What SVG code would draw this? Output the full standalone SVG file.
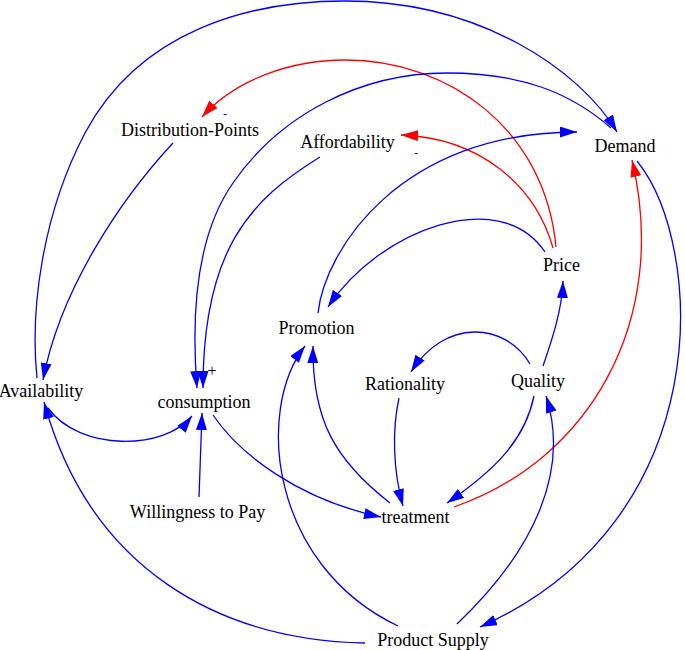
<svg xmlns="http://www.w3.org/2000/svg" width="685" height="650" viewBox="0 0 685 650">
<style>
.n{font-family:"Liberation Serif","Times New Roman",serif;font-size:18px;fill:#000;text-anchor:middle}
.b{fill:none;stroke:#0000ff;stroke-width:1.3}
.r{fill:none;stroke:#ff0000;stroke-width:1.3}
.b{marker-end:url(#ab)}
.r{marker-end:url(#ar)}
.pol{font-family:"Liberation Serif","Times New Roman",serif;text-anchor:middle}
</style>
<defs>
<marker id="ab" viewBox="0 0 17 11" refX="17" refY="5.5" markerWidth="17" markerHeight="11" markerUnits="userSpaceOnUse" orient="auto"><path d="M0,0L17,5.5L0,11z" fill="#0000ff"/></marker>
<marker id="ar" viewBox="0 0 17 11" refX="17" refY="5.5" markerWidth="17" markerHeight="11" markerUnits="userSpaceOnUse" orient="auto"><path d="M0,0L17,5.5L0,11z" fill="#ff0000"/></marker>
</defs>
<rect width="685" height="650" fill="#fff"/>
<g id="connectors">
<path id="e-avail-demand" class="b" d="M37,378 C30,310 42,215 85,133 C140,30 250,1 345,1 C480,1 580,70 617,132"/>
<path id="e-dp-avail" class="b" d="M173,143 C120,200 60,290 43,380"/>
<path id="e-price-dp" class="r" d="M556,247 C545,130 450,60 345,60 C290,60 235,80 202,117"/>
<path id="e-price-aff" class="r" d="M553,248 C535,185 480,138 401,135"/>
<path id="e-demand-cons" class="b" d="M611,128 C570,92 520,73 447,73 C360,73 280,115 233,183 C200,230 190,300 197,388"/>
<path id="e-aff-cons" class="b" d="M320,157 C250,200 203,250 203,388"/>
<path id="e-promo-demand" class="b" d="M318,313 C325,250 400,132 577,132"/>
<path id="e-price-promo" class="b" d="M545,252 C500,185 380,229 328,307"/>
<path id="e-quality-price" class="b" d="M543,366 C552,340 562,310 563,281"/>
<path id="e-quality-rat" class="b" d="M530,364 C505,322 445,318 411,372"/>
<path id="e-rat-treat" class="b" d="M399,398 C392,430 393,470 403,506"/>
<path id="e-quality-treat" class="b" d="M534,396 C525,440 495,470 447,503"/>
<path id="e-treat-demand" class="r" d="M454,507 C590,460 670,320 632,160"/>
<path id="e-demand-supply" class="b" d="M637,161 C705,245 720,520 480,627"/>
<path id="e-cons-treat" class="b" d="M213,415 C240,455 300,500 381,517"/>
<path id="e-wtp-cons" class="b" d="M199,497 C200,470 201,440 202,413"/>
<path id="e-avail-cons" class="b" d="M48,408 C80,452 165,450 192,416"/>
<path id="e-supply-avail" class="b" d="M365,643 C220,640 90,570 44,402"/>
<path id="e-supply-promo" class="b" d="M398,626 C270,565 255,410 305,346"/>
<path id="e-treat-promo" class="b" d="M390,503 C335,460 312,420 313,346"/>
<path id="e-supply-quality" class="b" d="M457,624 C535,550 570,470 546,396"/>
</g>
<g id="polarities">
<text class="pol" x="225" y="118" font-size="12" fill="#0000ff">-</text>
<text class="pol" x="416" y="157" font-size="12" fill="#0000ff">-</text>
<text class="pol" x="212" y="376" font-size="16" fill="#000">+</text>
</g>
<g id="node-distribution-points"><text class="n" x="190" y="136">Distribution-Points</text></g>
<g id="node-affordability"><text class="n" x="347.5" y="148">Affordability</text></g>
<g id="node-demand"><text class="n" x="625" y="152">Demand</text></g>
<g id="node-price"><text class="n" x="561.5" y="271">Price</text></g>
<g id="node-promotion"><text class="n" x="316.5" y="334">Promotion</text></g>
<g id="node-rationality"><text class="n" x="405" y="390">Rationality</text></g>
<g id="node-quality"><text class="n" x="538" y="387">Quality</text></g>
<g id="node-availability"><text class="n" x="41" y="397">Availability</text></g>
<g id="node-consumption"><text class="n" x="204" y="408">consumption</text></g>
<g id="node-willingness"><text class="n" x="197.5" y="518">Willingness to Pay</text></g>
<g id="node-treatment"><text class="n" x="415.5" y="523">treatment</text></g>
<g id="node-product-supply"><text class="n" x="433" y="646">Product Supply</text></g>
</svg>
